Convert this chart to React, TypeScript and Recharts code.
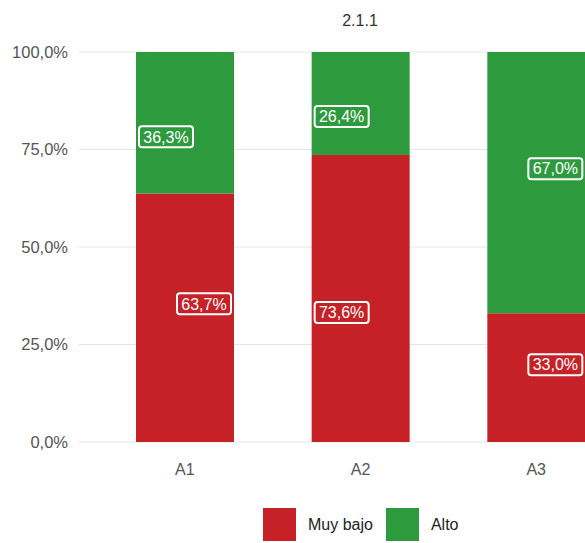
import React from "react";
import { BarChart, Bar, XAxis, YAxis, CartesianGrid, LabelList } from "recharts";

const title = "2.1.1";
const categories = ["A1", "A2", "A3"];
const muyBajo = [0.637, 0.736, 0.33];
const alto = [0.363, 0.264, 0.67];
const yTicks = [0, 0.25, 0.5, 0.75, 1];
const seriesNames = ["Muy bajo", "Alto"];
const seriesColors = ["#C62127", "#2E9A3E"];

const data = categories.map((c, i) => ({ name: c, muyBajo: muyBajo[i], alto: alto[i] }));

const fmt = (v: number) => (v * 100).toFixed(1).replace(".", ",") + "%";

const FONT = "'Liberation Sans', Arial, sans-serif";

// label placement nudges (style only): alignment inside bar and vertical shift
const nudges: Record<string, { align: "start" | "end"; dy: number }[]> = {
  muyBajo: [
    { align: "end", dy: -14 },
    { align: "start", dy: 14 },
    { align: "end", dy: -13 },
  ],
  alto: [
    { align: "start", dy: 14 },
    { align: "start", dy: 13 },
    { align: "end", dy: -14 },
  ],
};

const makeLabel = (key: string) => (props: any) => {
  const { x, y, width, height, value, index } = props;
  const n = nudges[key][index];
  const bw = 54;
  const bh = 21;
  const bx = n.align === "start" ? x + 3 : x + width - 3 - bw;
  const cy = y + height / 2 + n.dy;
  return (
    <g>
      <rect x={bx} y={cy - bh / 2} width={bw} height={bh} rx={3} ry={3} fill="none" stroke="#fff" strokeWidth={2} />
      <text x={bx + bw / 2} y={cy} dy="0.36em" textAnchor="middle" fill="#fff" fontSize={16} fontFamily={FONT}>
        {fmt(value)}
      </text>
    </g>
  );
};

export default function App() {
  return (
    <div style={{ position: "absolute", left: 0, top: 0, width: 585, height: 543, overflow: "hidden", background: "#fff", fontFamily: FONT }}>
      <div style={{ position: "absolute", left: 0, width: 720, top: 12, textAlign: "center", fontSize: 16, color: "#333", lineHeight: "18px" }}>
        {title}
      </div>
      <BarChart
        width={642}
        height={560}
        data={data}
        margin={{ top: 52, right: 0, left: 0, bottom: 0 }}
        barCategoryGap={39}
      >
        <CartesianGrid vertical={false} stroke="#e6e6e6" />
        <XAxis
          dataKey="name"
          height={118}
          tickLine={false}
          axisLine={false}
          padding={{ left: 18, right: 18 }}
          tickMargin={16}
          tick={{ fill: "#555", fontSize: 16, fontFamily: FONT }}
        />
        <YAxis
          width={79}
          domain={[0, 1]}
          ticks={yTicks}
          tickFormatter={fmt}
          tickLine={false}
          axisLine={false}
          tickMargin={5}
          tick={{ fill: "#555", fontSize: 16.5, fontFamily: FONT }}
        />
        <Bar dataKey="muyBajo" stackId="a" fill={seriesColors[0]} isAnimationActive={false}>
          <LabelList dataKey="muyBajo" content={makeLabel("muyBajo")} />
        </Bar>
        <Bar dataKey="alto" stackId="a" fill={seriesColors[1]} isAnimationActive={false}>
          <LabelList dataKey="alto" content={makeLabel("alto")} />
        </Bar>
      </BarChart>
      <div style={{ position: "absolute", left: 263, top: 508, display: "flex", alignItems: "center", fontSize: 16, color: "#222" }}>
        {seriesNames.map((s, i) => (
          <div key={s} style={{ display: "flex", alignItems: "center", marginRight: i === 0 ? 13 : 0 }}>
            <div style={{ width: 33, height: 33, background: seriesColors[i], marginRight: 12 }} />
            <span style={{ lineHeight: "33px" }}>{s}</span>
          </div>
        ))}
      </div>
    </div>
  );
}
